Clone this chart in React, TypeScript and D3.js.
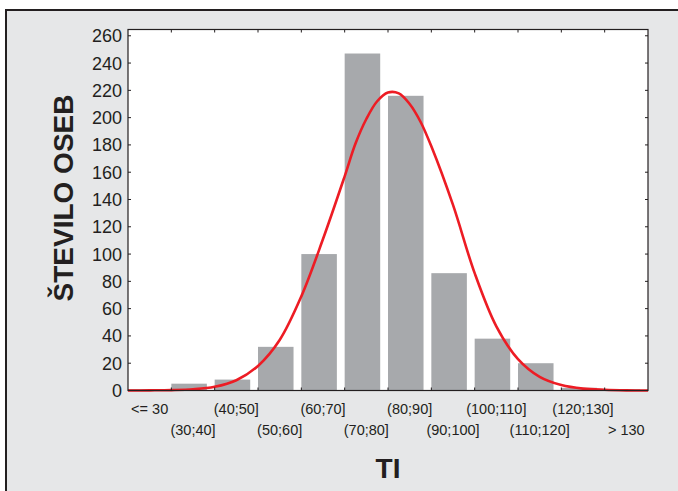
import React, { useEffect, useRef } from 'react';
import * as d3 from 'd3';

// kategorije TI
const categories = ['<= 30', '(30;40]', '(40;50]', '(50;60]', '(60;70]', '(70;80]', '(80;90]', '(90;100]', '(100;110]', '(110;120]', '(120;130]', '> 130'];
// število oseb v vsakem razredu
const counts = [1, 5, 8, 32, 100, 247, 216, 86, 38, 20, 2, 1];
// točke rdeče krivulje (TI, vrednost) odčitane s slike
const curveTI = [20, 25, 30, 35, 40, 45, 50, 55, 60, 65, 70, 72.5, 75, 77.5, 80, 82.5, 85, 87.5, 90, 95, 100, 105, 110, 115, 120, 125, 130, 135, 140];
const curveVal = [0, 0.1, 0.3, 0.9, 2.7, 7.5, 18, 37, 69, 111, 157, 181, 199, 212, 218.4, 217.8, 210, 197, 179, 136, 86, 47, 23, 10, 4, 1.4, 0.5, 0.1, 0];
const yTicks = [0, 20, 40, 60, 80, 100, 120, 140, 160, 180, 200, 220, 240, 260];

const App = () => {
  const ref = useRef<SVGSVGElement>(null);

  useEffect(() => {
    const svg = d3.select(ref.current);
    svg.selectAll('*').remove();

    const W = 678, H = 491;
    const left = 128, right = 648, top = 29.5, bottom = 390.5;
    const ink = '#231f20';

    // okvir
    svg.append('rect')
      .attr('x', 6).attr('y', 10)
      .attr('width', W).attr('height', H)
      .attr('fill', '#e6e7e8')
      .attr('stroke', ink)
      .attr('stroke-width', 2);

    const x = d3.scaleBand().domain(categories).range([left, right]).padding(0);
    const xLin = d3.scaleLinear().domain([20, 140]).range([left, right]);
    const y = d3.scaleLinear().domain([0, 264.6]).range([bottom, top]);

    svg.append('rect')
      .attr('x', left).attr('y', top)
      .attr('width', right - left).attr('height', bottom - top)
      .attr('fill', 'white');

    // stolpci (poravnani levo v razredu)
    svg.append('g')
      .selectAll('rect')
      .data(counts)
      .join('rect')
      .attr('x', (d, i) => x(categories[i])!)
      .attr('y', d => y(d))
      .attr('width', x.bandwidth() * 0.82)
      .attr('height', d => bottom - y(d))
      .attr('fill', '#a7a9ac');

    // krivulja
    const line = d3.line<number>()
      .x((d, i) => xLin(curveTI[i]))
      .y(d => y(d))
      .curve(d3.curveCatmullRom);
    svg.append('path')
      .attr('d', line(curveVal))
      .attr('fill', 'none')
      .attr('stroke', '#ed1c24')
      .attr('stroke-width', 2.6);

    // okvir grafa
    svg.append('rect')
      .attr('x', left).attr('y', top)
      .attr('width', right - left).attr('height', bottom - top)
      .attr('fill', 'none')
      .attr('stroke', ink)
      .attr('stroke-width', 1.2);

    // notranje oznake
    const bounds = categories.slice(1).map(c => x(c)!);
    const ticks = svg.append('g').attr('stroke', ink).attr('stroke-width', 1);
    bounds.forEach(b => {
      ticks.append('line').attr('x1', b).attr('x2', b).attr('y1', top).attr('y2', top + 3);
      ticks.append('line').attr('x1', b).attr('x2', b).attr('y1', bottom).attr('y2', bottom - 3);
    });
    yTicks.forEach(t => {
      ticks.append('line').attr('x1', left).attr('x2', left + 3).attr('y1', y(t)).attr('y2', y(t));
      ticks.append('line').attr('x1', right).attr('x2', right - 3).attr('y1', y(t)).attr('y2', y(t));
    });

    const font = '"Liberation Sans", Arial, sans-serif';

    svg.append('g')
      .attr('font-family', font)
      .attr('font-size', 18)
      .attr('text-anchor', 'end')
      .attr('fill', ink)
      .selectAll('text')
      .data(yTicks)
      .join('text')
      .attr('x', left - 6)
      .attr('y', d => y(d))
      .attr('dy', '0.36em')
      .text(d => d);

    svg.append('g')
      .attr('font-family', font)
      .attr('font-size', 14.5)
      .attr('text-anchor', 'middle')
      .attr('fill', ink)
      .selectAll('text')
      .data(categories)
      .join('text')
      .attr('x', d => x(d)! + x.bandwidth() / 2)
      .attr('y', (d, i) => (i % 2 === 0 ? 413.5 : 435))
      .text(d => d);

    svg.append('text')
      .attr('font-family', font)
      .attr('font-size', 28)
      .attr('font-weight', 'bold')
      .attr('text-anchor', 'middle')
      .attr('fill', ink)
      .attr('x', (left + right) / 2)
      .attr('y', 478)
      .text('TI');

    svg.append('text')
      .attr('font-family', font)
      .attr('font-size', 28)
      .attr('font-weight', 'bold')
      .attr('text-anchor', 'middle')
      .attr('fill', ink)
      .attr('transform', `translate(73, 198) rotate(-90)`)
      .text('ŠTEVILO OSEB');
  }, []);

  return (
    <div style={{ position: 'absolute', left: 0, top: 0 }}>
      <svg ref={ref} width={678} height={491} style={{ display: 'block' }} />
    </div>
  );
};

export default App;
